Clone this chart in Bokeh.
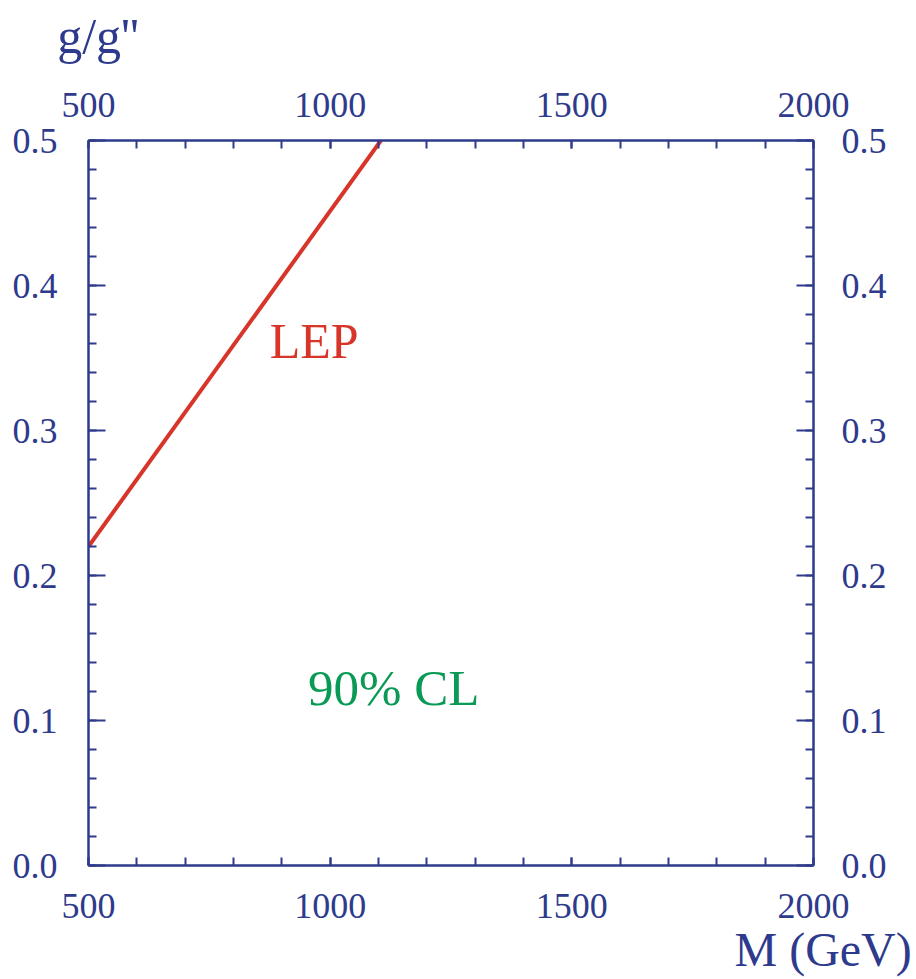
from bokeh.plotting import figure
from bokeh.models import LinearAxis, FixedTicker, Label, Range1d, PrintfTickFormatter
from bokeh.embed import file_html
from bokeh.resources import INLINE

# data
lep_mass = [500, 1105]          # M (GeV)
lep_coupling = [0.22, 0.50]     # g/g''
x_major = [500, 1000, 1500, 2000]
x_minor = list(range(500, 2001, 100))
y_major = [0.0, 0.1, 0.2, 0.3, 0.4, 0.5]
y_minor = [round(i * 0.02, 2) for i in range(26)]
x_title = "\u2009\u2009M (GeV)"
y_title = "g/g''"
x_title_pos = 2000     # anchor of the x title, in GeV
y_title_pos = 520      # centre of the y title, in GeV

NAVY = "#2e3a8c"
RED = "#d8352a"
GREEN = "#0b9a55"
FONT = "Liberation Serif"

p = figure(frame_width=725, frame_height=725, output_backend="svg",
           toolbar_location=None, x_axis_location=None, y_axis_location=None,
           min_border_left=88, min_border_right=103, min_border_top=140,
           min_border_bottom=114, background_fill_color="white",
           border_fill_color="white", outline_line_color=None)
p.x_range = Range1d(500, 2000)
p.y_range = Range1d(0, 0.5)
p.xgrid.visible = False
p.ygrid.visible = False


def style(ax, major_len, minor_len, standoff):
    ax.axis_line_color = NAVY
    ax.axis_line_width = 2.5
    ax.major_tick_line_color = NAVY
    ax.minor_tick_line_color = NAVY
    ax.major_tick_line_width = 2
    ax.minor_tick_line_width = 2
    ax.major_tick_in = major_len
    ax.major_tick_out = 0
    ax.minor_tick_in = minor_len
    ax.minor_tick_out = 0
    ax.major_label_text_font = FONT
    ax.major_label_text_font_size = "36px"
    ax.major_label_text_color = NAVY
    ax.major_label_standoff = standoff


for loc, so in (("below", 28), ("above", 24)):
    ax = LinearAxis(ticker=FixedTicker(ticks=x_major, minor_ticks=x_minor))
    style(ax, 8, 8, so)
    p.add_layout(ax, loc)

for loc, so in (("left", 31), ("right", 28)):
    ax = LinearAxis(ticker=FixedTicker(ticks=y_major, minor_ticks=y_minor),
                    formatter=PrintfTickFormatter(format="%.1f"))
    style(ax, 17, 8, so)
    p.add_layout(ax, loc)


def title_axis(pos, text, loc, standoff, size):
    ax = LinearAxis(ticker=FixedTicker(ticks=[pos], minor_ticks=[]),
                    major_label_overrides={pos: text})
    ax.axis_line_color = None
    ax.major_tick_line_color = None
    ax.minor_tick_line_color = None
    ax.major_tick_in = 0
    ax.major_tick_out = 0
    ax.major_label_text_font = FONT
    ax.major_label_text_font_size = size
    ax.major_label_text_color = NAVY
    ax.major_label_standoff = standoff
    p.add_layout(ax, loc)


title_axis(y_title_pos, y_title, "above", 26, "50px")
title_axis(x_title_pos, x_title, "below", 2, "48px")

p.line(lep_mass, lep_coupling, line_color=RED, line_width=4)

p.add_layout(Label(x=875, y=0.3615, text="LEP", text_font=FONT, text_font_size="50px",
                   text_color=RED, text_baseline="alphabetic"))
p.add_layout(Label(x=954, y=0.1225, text="90% CL", text_font=FONT, text_font_size="51px",
                   text_color=GREEN, text_baseline="alphabetic"))

open("out.html", "w").write(file_html(p, INLINE))
